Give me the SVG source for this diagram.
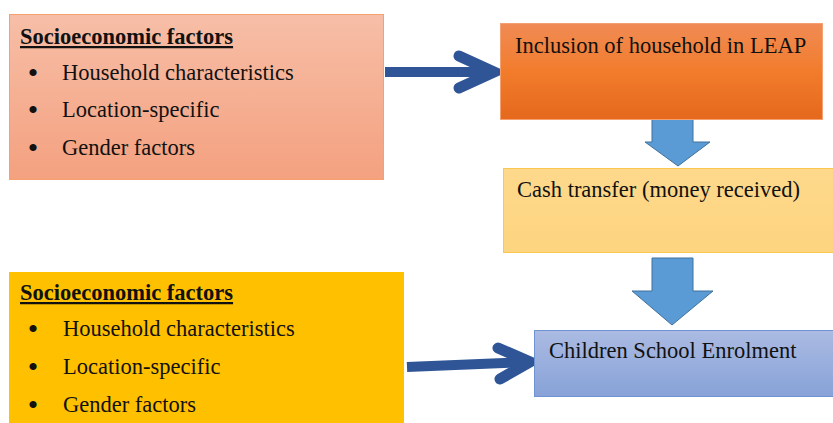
<svg xmlns="http://www.w3.org/2000/svg" width="833" height="423" viewBox="0 0 833 423">
<defs>
<linearGradient id="gSalmon" x1="0" y1="0" x2="0" y2="1"><stop offset="0" stop-color="#f7bea7"/><stop offset="1" stop-color="#f4a17f"/></linearGradient>
<linearGradient id="gOrange" x1="0" y1="0" x2="0" y2="1"><stop offset="0" stop-color="#f08b55"/><stop offset="0.5" stop-color="#f27c2c"/><stop offset="1" stop-color="#e5681c"/></linearGradient>
<linearGradient id="gYellow" x1="0" y1="0" x2="0" y2="1"><stop offset="0" stop-color="#fed98c"/><stop offset="1" stop-color="#fdd47f"/></linearGradient>
<linearGradient id="gBlue" x1="0" y1="0" x2="0" y2="1"><stop offset="0" stop-color="#abbbe2"/><stop offset="1" stop-color="#87a2d8"/></linearGradient>
</defs>
<style>
text{font-family:"Liberation Serif","Times New Roman",serif;font-size:22.5px;fill:#111}
.title{font-weight:bold;text-decoration:underline}
.bul{font-size:30px;text-anchor:middle}
.conn{fill:none;stroke:#2f5597;stroke-width:10}
.head{fill:none;stroke:#2f5597;stroke-width:11;stroke-linecap:round;stroke-linejoin:miter}
.block{fill:#5b9bd5;stroke:#41719c;stroke-width:1}
</style>
<g id="connectors">
<line class="conn" x1="385" y1="72" x2="490" y2="72"/>
<polyline class="head" points="459,56 494,72 459,88"/>
<line class="conn" x1="407" y1="367" x2="527" y2="362"/>
<polyline class="head" points="498,348 530,362 500,379"/>
<polygon class="block" points="652,117 693,117 693,142 710,142 678,166 645,142 652,142"/>
<polygon class="block" points="652,258 693,258 693,291 713,291 672,325 632,291 652,291"/>
</g>
<g id="socio1">
<rect x="9.5" y="14.5" width="374" height="165" fill="url(#gSalmon)" stroke="#f4a070" stroke-width="1"/>
<text x="20" y="44" class="title">Socioeconomic factors</text>
<text x="33" y="83" class="bul">•</text>
<text x="62" y="80">Household characteristics</text>
<text x="33" y="120" class="bul">•</text>
<text x="62" y="117">Location-specific</text>
<text x="33" y="158" class="bul">•</text>
<text x="62" y="155">Gender factors</text>
</g>
<g id="leap">
<rect x="500.5" y="23.5" width="322" height="96" fill="url(#gOrange)" stroke="#f4a070" stroke-width="1"/>
<text x="515" y="53">Inclusion of household in LEAP</text>
</g>
<g id="cash">
<rect x="503.5" y="168.5" width="330" height="84" fill="url(#gYellow)" stroke="#fbc74f" stroke-width="1"/>
<text x="517" y="197">Cash transfer (money received)</text>
</g>
<g id="socio2">
<rect x="9" y="272" width="395" height="152" fill="#ffc000"/>
<text x="20" y="300" class="title">Socioeconomic factors</text>
<text x="33" y="339" class="bul">•</text>
<text x="63" y="336">Household characteristics</text>
<text x="33" y="377" class="bul">•</text>
<text x="63" y="374">Location-specific</text>
<text x="33" y="415" class="bul">•</text>
<text x="63" y="412">Gender factors</text>
</g>
<g id="enrol">
<rect x="534.5" y="330.5" width="299" height="66" fill="url(#gBlue)" stroke="#6f93d0" stroke-width="1"/>
<text x="549" y="358">Children School Enrolment</text>
</g>
</svg>
